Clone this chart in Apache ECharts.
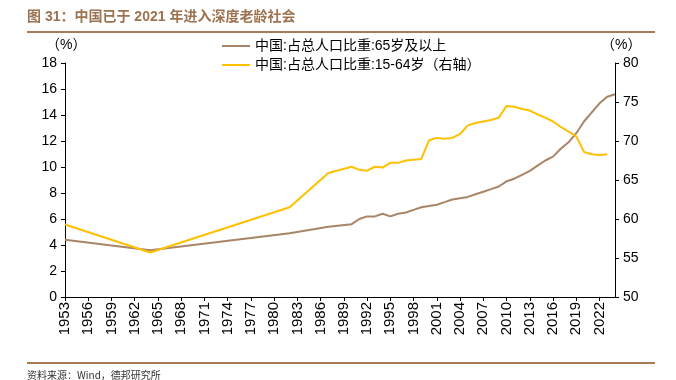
<!DOCTYPE html>
<html>
<head>
<meta charset="utf-8">
<script src="https://cdn.jsdelivr.net/npm/echarts@6/dist/echarts.min.js"></script>
<style>
html,body{margin:0;padding:0;background:#fff;}
#chart{width:676px;height:380px;}
</style>
</head>
<body>
<div id="chart"></div>
<script>
// Data
var dataYears = [1953,1964,1982,1987,1990,1991,1992,1993,1994,1995,1996,1997,1998,1999,2000,2001,2002,2003,2004,2005,2006,2007,2008,2009,2010,2011,2012,2013,2014,2015,2016,2017,2018,2019,2020,2021,2022,2023,2024];
var elderly65 = [4.4,3.6,4.9,5.4,5.6,6.0,6.2,6.2,6.4,6.2,6.4,6.5,6.7,6.9,7.0,7.1,7.3,7.5,7.6,7.7,7.9,8.1,8.3,8.5,8.9,9.1,9.4,9.7,10.1,10.5,10.8,11.4,11.9,12.6,13.5,14.2,14.9,15.4,15.6];
var working1564 = [59.3,55.7,61.5,65.9,66.7,66.3,66.2,66.7,66.6,67.2,67.2,67.5,67.6,67.7,70.1,70.4,70.3,70.4,70.9,72.0,72.3,72.5,72.7,73.0,74.5,74.4,74.1,73.9,73.4,73.0,72.5,71.8,71.2,70.6,68.6,68.3,68.2,68.3,null];
var firstYear = 1953, lastYear = 2024;
var seriesNames = ['中国:占总人口比重:65岁及以上','中国:占总人口比重:15-64岁（右轴）'];

var categories = [];
for (var y = firstYear; y <= lastYear; y++) categories.push(String(y));
function toSeries(vals){
  var out = categories.map(function(){return null;});
  dataYears.forEach(function(yr,i){ out[yr-firstYear] = vals[i]; });
  return out;
}

var cjk = '"Liberation Sans", Arial, "Noto Sans CJK SC", sans-serif';
var chart = echarts.init(document.getElementById('chart'));
chart.setOption({
  animation:false,
  backgroundColor:'#fff',
  textStyle:{fontFamily:cjk},
  graphic:[
    {type:'text', left:27, top:10, style:{text:'图 31：中国已于 2021 年进入深度老龄社会', fill:'#9C7350', font:'bold 14px "Liberation Sans", "Noto Sans CJK SC", sans-serif'}},
    {type:'rect', shape:{x:27,y:31,width:628,height:2}, style:{fill:'#A67C52'}},
    {type:'rect', shape:{x:27,y:362,width:628,height:2}, style:{fill:'#A67C52'}},
    {type:'text', left:27, top:370, style:{text:'资料来源：Wind，德邦研究所', fill:'#333', font:'10px "Noto Sans CJK SC", sans-serif'}},
    {type:'text', left:46, top:38, style:{text:'（%）', fill:'#000', font:'14px "Liberation Sans", "Noto Sans CJK SC", sans-serif'}},
    {type:'text', left:601, top:38, style:{text:'（%）', fill:'#000', font:'14px "Liberation Sans", "Noto Sans CJK SC", sans-serif'}}
  ],
  legend:{
    orient:'vertical', left:222, top:39, padding:0, itemWidth:28, itemHeight:2, icon:'rect', itemGap:5,
    textStyle:{fontSize:14, color:'#000', fontFamily:cjk},
    data:seriesNames
  },
  grid:{left:65, right:61, top:63, bottom:83, containLabel:false},
  xAxis:{
    type:'category', data:categories, boundaryGap:false,
    axisLine:{lineStyle:{color:'#000',width:1}},
    axisTick:{interval:2, length:4, lineStyle:{color:'#000'}},
    axisLabel:{interval:2, rotate:90, fontSize:15, color:'#000', margin:5, fontFamily:'"Liberation Sans", Arial, sans-serif'},
    splitLine:{show:false}
  },
  yAxis:[
    {type:'value', min:0, max:18, interval:2,
     axisLine:{show:true, lineStyle:{color:'#000'}},
     axisTick:{show:true, length:4, lineStyle:{color:'#000'}},
     axisLabel:{fontSize:14, color:'#000', margin:8, fontFamily:'"Liberation Sans", Arial, sans-serif'},
     splitLine:{show:false}},
    {type:'value', min:50, max:80, interval:5, position:'right',
     axisLine:{show:true, lineStyle:{color:'#000'}},
     axisTick:{show:true, length:4, lineStyle:{color:'#000'}},
     axisLabel:{fontSize:14, color:'#000', margin:8, fontFamily:'"Liberation Sans", Arial, sans-serif'},
     splitLine:{show:false}}
  ],
  series:[
    {name:seriesNames[0], type:'line', yAxisIndex:0, data:toSeries(elderly65), connectNulls:true, showSymbol:false, symbol:'none',
     lineStyle:{color:'#A88567', width:2}, itemStyle:{color:'#A88567'}},
    {name:seriesNames[1], type:'line', yAxisIndex:1, data:toSeries(working1564), connectNulls:true, showSymbol:false, symbol:'none',
     lineStyle:{color:'#FFC000', width:2}, itemStyle:{color:'#FFC000'}}
  ]
});
</script>
</body>
</html>
